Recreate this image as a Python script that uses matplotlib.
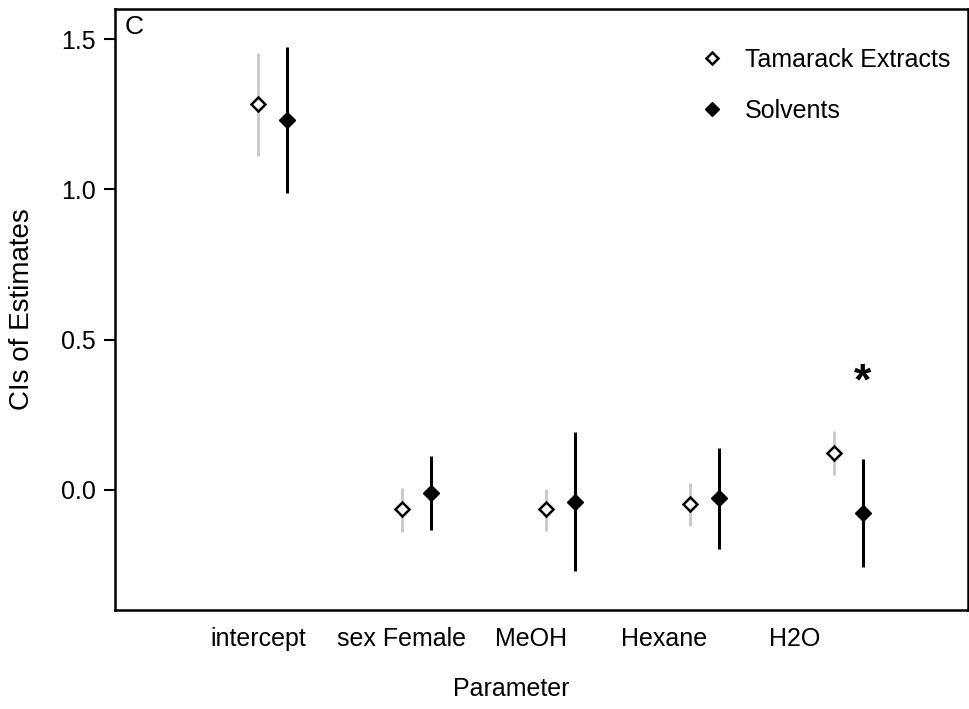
import matplotlib
matplotlib.use("Agg")
import matplotlib.pyplot as plt
from matplotlib.lines import Line2D
import numpy as np

plt.rcParams['font.family'] = ['Liberation Sans', 'DejaVu Sans']

# parameters (tick labels)
params = ['intercept', 'sex Female', 'MeOH', 'Hexane', 'H2O']

# Tamarack extracts: estimate, lower CI, upper CI
tam_est = [1.284, -0.063, -0.063, -0.047, 0.123]
tam_lo = [1.111, -0.140, -0.136, -0.120, 0.050]
tam_hi = [1.454, 0.007, 0.003, 0.023, 0.196]

# Solvents: estimate, lower CI, upper CI
sol_est = [1.231, -0.010, -0.040, -0.027, -0.077]
sol_lo = [0.988, -0.133, -0.270, -0.196, -0.256]
sol_hi = [1.474, 0.113, 0.193, 0.140, 0.103]

# significant difference marker
star_param = 'H2O'
star_y = 0.355

fig = plt.figure(figsize=(9.69, 7.09), dpi=100)
ax = fig.add_axes([0.1187, 0.1396, 0.880, 0.8477])

x = np.arange(len(params))
off = 0.2
tam_est = np.array(tam_est); sol_est = np.array(sol_est)
tam_err = [tam_est - np.array(tam_lo), np.array(tam_hi) - tam_est]
sol_err = [sol_est - np.array(sol_lo), np.array(sol_hi) - sol_est]

ax.errorbar(x, tam_est, yerr=tam_err, fmt='D', color='#c8c8c8', ecolor='#c8c8c8',
            elinewidth=2, mfc='white', mec='black', mew=1.8, ms=7, zorder=3)
ax.errorbar(x + off, sol_est, yerr=sol_err, fmt='D', color='black', ecolor='black',
            elinewidth=2.2, mfc='black', mec='black', ms=8, zorder=3)

si = params.index(star_param)
ax.text(x[si] + off, star_y, '*', fontsize=32, fontweight='bold', ha='center', va='center')

ax.set_xlim(-0.993, 4.93)
ax.set_ylim(-0.40, 1.60)
ax.set_yticks([0.0, 0.5, 1.0, 1.5])
ax.set_yticklabels(['0.0', '0.5', '1.0', '1.5'])
ax.set_xticks([0.0, 1.0, 1.9, 2.82, 3.73])
ax.set_xticklabels(params)
ax.tick_params(axis='x', length=0, labelsize=18, pad=12)
ax.tick_params(axis='y', length=8, width=1.5, labelsize=18, pad=6)
for s in ax.spines.values():
    s.set_linewidth(1.8)

ax.set_xlabel('Parameter', fontsize=18)
ax.xaxis.set_label_coords(0.465, -0.112)
ax.set_ylabel('CIs of Estimates', fontsize=20)
ax.yaxis.set_label_coords(-0.094, 0.5)

ax.text(0.011, 0.99, 'C', transform=ax.transAxes, fontsize=19, ha='left', va='top')

handles = [Line2D([], [], ls='none', marker='D', mfc='white', mec='black', mew=1.8, ms=6),
           Line2D([], [], ls='none', marker='D', mfc='black', mec='black', ms=7)]
ax.legend(handles, ['Tamarack Extracts', 'Solvents'], loc='upper left',
          bbox_to_anchor=(0.659, 0.973), frameon=False, fontsize=18,
          handlelength=1.0, handletextpad=0.82, labelspacing=1.08)

fig.savefig('out.png', dpi=100)
